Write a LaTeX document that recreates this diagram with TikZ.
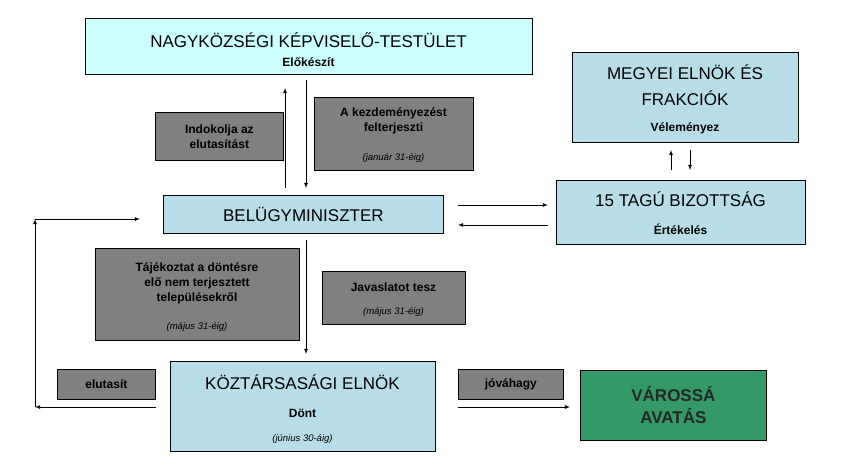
\documentclass[tikz,border=0pt]{standalone}
\usepackage{fontspec}
\setmainfont{Liberation Sans}
\definecolor{lc}{HTML}{CCFFFF}
\definecolor{bc}{HTML}{B7DEE8}
\definecolor{gc}{HTML}{808080}
\definecolor{grn}{HTML}{339966}
\begin{document}
\begin{tikzpicture}[x=1pt,y=-1pt,
  bx/.style={draw=black,line width=0.8pt,anchor=north west,inner sep=0pt,align=center},
  big/.style={font=\fontsize{17}{21}\selectfont},
  lab/.style={font=\bfseries\fontsize{12}{15}\selectfont},
  it/.style={font=\itshape\fontsize{9.5}{12}\selectfont},
  ar/.style={-latex,line width=0.8pt}]
\useasboundingbox (0,0) rectangle (850,459);
\node[bx,fill=lc,minimum width=447pt,minimum height=56pt] (nk) at (85,18) {};
\node[big] at (308.5,40) {NAGYKÖZSÉGI KÉPVISELŐ-TESTÜLET};
\node[lab] at (308.5,62) {Előkészít};
\node[bx,fill=bc,minimum width=226pt,minimum height=90pt] (me) at (572,52) {};
\node[big] at (685,72) {MEGYEI ELNÖK ÉS};
\node[big] at (685,98) {FRAKCIÓK};
\node[lab] at (685,128) {Véleményez};
\node[bx,fill=gc,minimum width=128pt,minimum height=48pt,lab] (ind) at (155,112) {Indokolja az\\elutasítást};
\node[bx,fill=gc,minimum width=159pt,minimum height=73pt] (kez) at (314,97) {};
\node[lab,align=center] at (393.5,121) {A kezdeményezést\\felterjeszti};
\node[it] at (393.5,158) {(január 31-éig)};
\node[bx,fill=bc,minimum width=280pt,minimum height=38pt,big] (bm) at (163,195) {BELÜGYMINISZTER};
\node[bx,fill=bc,minimum width=249pt,minimum height=64pt] (tb) at (556,180) {};
\node[big] at (680.5,199) {15 TAGÚ BIZOTTSÁG};
\node[lab] at (680.5,229) {Értékelés};
\node[bx,fill=gc,minimum width=204pt,minimum height=92pt] (taj) at (95,248) {};
\node[lab,align=center] at (197,283) {Tájékoztat a döntésre\\elő nem terjesztett\\településekről};
\node[it] at (197,327) {(május 31-éig)};
\node[bx,fill=gc,minimum width=143pt,minimum height=53pt] (jav) at (322,271) {};
\node[lab] at (393.5,287) {Javaslatot tesz};
\node[it] at (393.5,312) {(május 31-éig)};
\node[bx,fill=bc,minimum width=265pt,minimum height=90pt] (ke) at (170,361) {};
\node[big] at (302.5,382) {KÖZTÁRSASÁGI ELNÖK};
\node[lab] at (302.5,413) {Dönt};
\node[it] at (302.5,439) {(június 30-áig)};
\node[bx,fill=gc,minimum width=98pt,minimum height=30pt,lab] (elu) at (57,369) {elutasít};
\node[bx,fill=gc,minimum width=105pt,minimum height=30pt,lab] (jov) at (458,369) {jóváhagy};
\node[bx,fill=grn,minimum width=186pt,minimum height=70pt,align=center,font=\bfseries\fontsize{17}{22}\selectfont,text=black!85] (vv) at (580,370) {VÁROSSÁ\\AVATÁS};
% arrows
\coordinate (a1) at (285,188); \coordinate (a2) at (285,88);
\draw[ar] (a1) -- (a2);
\coordinate (b1) at (306,80); \coordinate (b2) at (306,188);
\draw[ar] (b1) -- (b2);
\coordinate (c1) at (458,205); \coordinate (c2) at (548,205);
\draw[ar] (c1) -- (c2);
\coordinate (d1) at (548,225); \coordinate (d2) at (458,225);
\draw[ar] (d1) -- (d2);
\coordinate (e1) at (671,170); \coordinate (e2) at (671,150);
\draw[ar] (e1) -- (e2);
\coordinate (f1) at (690,150); \coordinate (f2) at (690,170);
\draw[ar] (f1) -- (f2);
\coordinate (g1) at (306,240); \coordinate (g2) at (306,354);
\draw[ar] (g1) -- (g2);
\coordinate (h1) at (458,407); \coordinate (h2) at (570,407);
\draw[ar] (h1) -- (h2);
\coordinate (l1) at (156,407); \coordinate (l2) at (35,407);
\coordinate (l3) at (35,219); \coordinate (l4) at (140,219);
\draw[ar] (l1) -- (l2);
\draw[ar] (l2) -- (l3);
\draw[ar] (l3) -- (l4);
\end{tikzpicture}
\end{document}
